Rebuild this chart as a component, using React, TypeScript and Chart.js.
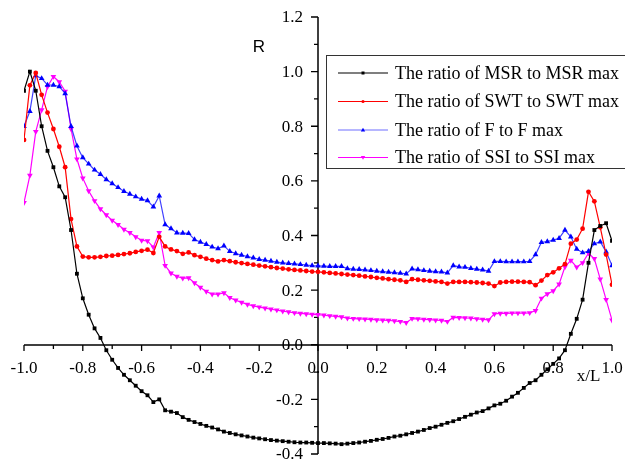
import React, { useEffect, useRef } from "react";
import { Chart, registerables } from "chart.js";

Chart.register(...registerables);

const xValues = [
  -1.0, -0.98, -0.96, -0.94, -0.92, -0.9, -0.88, -0.86, -0.84, -0.82,
  -0.8, -0.78, -0.76, -0.74, -0.72, -0.7, -0.68, -0.66, -0.64, -0.62,
  -0.6, -0.58, -0.56, -0.54, -0.52, -0.5, -0.48, -0.46, -0.44, -0.42,
  -0.4, -0.38, -0.36, -0.34, -0.32, -0.3, -0.28, -0.26, -0.24, -0.22,
  -0.2, -0.18, -0.16, -0.14, -0.12, -0.1, -0.08, -0.06, -0.04, -0.02,
  0.0, 0.02, 0.04, 0.06, 0.08, 0.1, 0.12, 0.14, 0.16, 0.18,
  0.2, 0.22, 0.24, 0.26, 0.28, 0.3, 0.32, 0.34, 0.36, 0.38,
  0.4, 0.42, 0.44, 0.46, 0.48, 0.5, 0.52, 0.54, 0.56, 0.58,
  0.6, 0.62, 0.64, 0.66, 0.68, 0.7, 0.72, 0.74, 0.76, 0.78,
  0.8, 0.82, 0.84, 0.86, 0.88, 0.9, 0.92, 0.94, 0.96, 0.98,
  1.0,
];

const msrRatio = [
  0.93, 1.0, 0.93, 0.8, 0.71, 0.65, 0.58, 0.54, 0.42, 0.26,
  0.17, 0.11, 0.06, 0.025, -0.02, -0.055, -0.085, -0.11, -0.13, -0.15,
  -0.17, -0.185, -0.21, -0.2, -0.24, -0.245, -0.25, -0.265, -0.275, -0.283,
  -0.29, -0.297, -0.303, -0.31, -0.318, -0.323, -0.328, -0.332, -0.336, -0.34,
  -0.343, -0.346, -0.349, -0.351, -0.353, -0.355, -0.357, -0.358, -0.358, -0.359,
  -0.36, -0.36, -0.361, -0.362, -0.364, -0.362, -0.36, -0.358, -0.355, -0.352,
  -0.348, -0.345, -0.341, -0.336, -0.333, -0.328, -0.323, -0.318, -0.312, -0.305,
  -0.3, -0.293, -0.286, -0.28, -0.272, -0.264, -0.256, -0.248, -0.243, -0.233,
  -0.222, -0.216, -0.205, -0.19, -0.176, -0.158, -0.14, -0.13, -0.11, -0.09,
  -0.07, -0.05, -0.02, 0.04, 0.095, 0.165, 0.3, 0.42, 0.435, 0.445,
  0.38,
];

const swtRatio = [
  0.75, 0.95, 0.995, 0.915, 0.85, 0.79, 0.725, 0.65, 0.46, 0.36,
  0.323, 0.32, 0.32, 0.322, 0.325, 0.326, 0.329, 0.332, 0.335, 0.34,
  0.344, 0.348, 0.336, 0.395, 0.36, 0.349, 0.343, 0.333, 0.338, 0.328,
  0.322, 0.315, 0.31, 0.305, 0.31, 0.306, 0.302, 0.299, 0.296, 0.293,
  0.29, 0.287, 0.284, 0.281, 0.279, 0.276, 0.274, 0.272, 0.27, 0.268,
  0.267, 0.265, 0.263, 0.261, 0.259, 0.257, 0.255, 0.253, 0.25, 0.248,
  0.245, 0.243, 0.24, 0.238, 0.236, 0.23, 0.24, 0.238, 0.236, 0.234,
  0.232, 0.23, 0.224, 0.23, 0.23, 0.23, 0.229, 0.228, 0.226, 0.224,
  0.215, 0.228, 0.23, 0.231, 0.231, 0.23, 0.229, 0.218, 0.235, 0.255,
  0.265, 0.28, 0.295, 0.37, 0.385, 0.425, 0.56, 0.525, 0.43, 0.33,
  0.22,
];

const fRatio = [
  0.8, 0.855, 0.985, 0.975, 0.951, 0.951, 0.945, 0.92, 0.8, 0.728,
  0.685, 0.662, 0.64, 0.624, 0.605, 0.59, 0.576, 0.562, 0.552, 0.542,
  0.533, 0.528, 0.505, 0.545, 0.44, 0.425, 0.41, 0.409, 0.408, 0.385,
  0.376, 0.368, 0.358, 0.352, 0.362, 0.342, 0.334, 0.328, 0.323, 0.318,
  0.313, 0.31, 0.306, 0.303, 0.3, 0.298, 0.296, 0.294, 0.292, 0.29,
  0.289, 0.288, 0.287, 0.287, 0.287, 0.279, 0.277, 0.276, 0.274, 0.272,
  0.27, 0.268, 0.266, 0.264, 0.262, 0.26, 0.278, 0.275, 0.272, 0.27,
  0.268, 0.267, 0.263, 0.29, 0.285, 0.284, 0.28, 0.277, 0.274, 0.27,
  0.305, 0.305, 0.304, 0.304, 0.304, 0.304, 0.305, 0.33, 0.375, 0.378,
  0.383, 0.39, 0.42, 0.395, 0.35, 0.337, 0.342, 0.37, 0.377, 0.34,
  0.29,
];

const ssiRatio = [
  0.52, 0.62, 0.78, 0.86, 0.945, 0.982, 0.962, 0.928, 0.79, 0.68,
  0.61, 0.563, 0.527, 0.497, 0.475, 0.455, 0.44, 0.422, 0.41, 0.395,
  0.382, 0.38, 0.357, 0.41, 0.29, 0.262, 0.25, 0.244, 0.245, 0.226,
  0.21, 0.195, 0.185, 0.185, 0.19, 0.172, 0.163, 0.155, 0.148, 0.142,
  0.138, 0.134, 0.13, 0.127, 0.123, 0.12, 0.117, 0.115, 0.113, 0.111,
  0.11, 0.108, 0.106, 0.104, 0.102, 0.097, 0.096, 0.095, 0.094, 0.093,
  0.091, 0.09, 0.089, 0.087, 0.085, 0.081, 0.096, 0.095, 0.093, 0.092,
  0.09, 0.089, 0.085, 0.1, 0.099, 0.098, 0.097, 0.095, 0.093, 0.091,
  0.113, 0.115, 0.115, 0.116, 0.116, 0.116, 0.117, 0.125, 0.17, 0.186,
  0.197, 0.222, 0.285, 0.309, 0.284, 0.3, 0.335, 0.315, 0.24, 0.165,
  0.09,
];

const seriesNames = [
  "The ratio of MSR to MSR max",
  "The ratio of SWT to SWT max",
  "The ratio of F to F max",
  "The ratio of SSI to SSI max",
];

const xMajorTicks = [-1.0, -0.8, -0.6, -0.4, -0.2, 0.0, 0.2, 0.4, 0.6, 0.8, 1.0];
const xTickLabels = ["-1.0", "-0.8", "-0.6", "-0.4", "-0.2", "0.0", "0.2", "0.4", "0.6", "0.8", "1.0"];
const xMinorTicks = [-0.9, -0.7, -0.5, -0.3, -0.1, 0.1, 0.3, 0.5, 0.7, 0.9];
const yMajorTicks = [-0.4, -0.2, 0.0, 0.2, 0.4, 0.6, 0.8, 1.0, 1.2];
const yTickLabels = ["-0.4", "-0.2", "0.0", "0.2", "0.4", "0.6", "0.8", "1.0", "1.2"];
const yMinorTicks = [-0.3, -0.1, 0.1, 0.3, 0.5, 0.7, 0.9, 1.1];

const xTitle = "x/L";
const yTitle = "R";

const COLORS = ["#000000", "#ff0000", "#0000ff", "#ff00ff"];
const SERIF = "'Liberation Serif', 'Times New Roman', serif";

const axesPlugin = {
  id: "customAxes",
  beforeDatasetsDraw(chart: any) {
    const { ctx } = chart;
    const xs = chart.scales.x;
    const ys = chart.scales.y;
    const x0 = Math.round(xs.getPixelForValue(0));
    const y0 = Math.round(ys.getPixelForValue(0));
    const xl = xs.getPixelForValue(-1);
    const xr = xs.getPixelForValue(1);
    const yt = ys.getPixelForValue(1.2);
    const yb = ys.getPixelForValue(-0.4);
    ctx.save();
    ctx.strokeStyle = "#000";
    ctx.lineWidth = 1.5;
    ctx.beginPath();
    ctx.moveTo(xl, y0);
    ctx.lineTo(xr, y0);
    ctx.moveTo(x0, yt);
    ctx.lineTo(x0, yb);
    ctx.stroke();

    ctx.lineWidth = 1.3;
    ctx.beginPath();
    xMajorTicks.forEach((v) => {
      const px = xs.getPixelForValue(v);
      ctx.moveTo(px, y0);
      ctx.lineTo(px, y0 + 6);
    });
    xMinorTicks.forEach((v) => {
      const px = xs.getPixelForValue(v);
      ctx.moveTo(px, y0);
      ctx.lineTo(px, y0 + 4);
    });
    yMajorTicks.forEach((v) => {
      const py = ys.getPixelForValue(v);
      ctx.moveTo(x0, py);
      ctx.lineTo(x0 - 7, py);
    });
    yMinorTicks.forEach((v) => {
      const py = ys.getPixelForValue(v);
      ctx.moveTo(x0, py);
      ctx.lineTo(x0 - 4, py);
    });
    ctx.stroke();

    ctx.fillStyle = "#000";
    ctx.font = `17px ${SERIF}`;
    ctx.textAlign = "center";
    ctx.textBaseline = "middle";
    xMajorTicks.forEach((v, i) => {
      ctx.fillText(xTickLabels[i], xs.getPixelForValue(v), y0 + 24);
    });
    ctx.textAlign = "right";
    yMajorTicks.forEach((v, i) => {
      ctx.fillText(yTickLabels[i], x0 - 15, ys.getPixelForValue(v) + 1);
    });

    ctx.textAlign = "center";
    ctx.fillText(xTitle, xs.getPixelForValue(0.92), y0 + 32);
    ctx.font = `17px 'Liberation Sans', Arial, sans-serif`;
    ctx.fillText(yTitle, x0 - 59, ys.getPixelForValue(1.09));
    ctx.restore();
  },
};

function drawMarker(ctx: CanvasRenderingContext2D, i: number, x: number, y: number) {
  ctx.fillStyle = COLORS[i];
  ctx.beginPath();
  if (i === 0) {
    ctx.rect(x - 1.5, y - 1.5, 3, 3);
  } else if (i === 1) {
    ctx.arc(x, y, 1.6, 0, Math.PI * 2);
  } else if (i === 2) {
    ctx.moveTo(x, y - 2.2);
    ctx.lineTo(x + 2.2, y + 1.6);
    ctx.lineTo(x - 2.2, y + 1.6);
    ctx.closePath();
  } else {
    ctx.moveTo(x, y + 2.2);
    ctx.lineTo(x + 2.2, y - 1.6);
    ctx.lineTo(x - 2.2, y - 1.6);
    ctx.closePath();
  }
  ctx.fill();
}

const legendPlugin = {
  id: "customLegend",
  afterDraw(chart: any) {
    const { ctx } = chart;
    ctx.save();
    ctx.strokeStyle = "#333";
    ctx.lineWidth = 1;
    ctx.strokeRect(326.5, 55.5, 320, 113);
    const rows = [73, 101.5, 130, 157.5];
    const lineColors = ["#000000", "#ff0000", "#6f6fff", "#ff00ff"];
    seriesNames.forEach((name, i) => {
      const y = rows[i];
      ctx.strokeStyle = lineColors[i];
      ctx.lineWidth = 1.2;
      ctx.beginPath();
      ctx.moveTo(338, y);
      ctx.lineTo(388, y);
      ctx.stroke();
      drawMarker(ctx, i, 363, y);
      ctx.fillStyle = "#000";
      ctx.font = `18px ${SERIF}`;
      ctx.textAlign = "left";
      ctx.textBaseline = "middle";
      ctx.fillText(name, 395, y + 1);
    });
    ctx.restore();
  },
};

export default function App() {
  const canvasRef = useRef<HTMLCanvasElement | null>(null);

  useEffect(() => {
    if (!canvasRef.current) return;
    const mk = (vals: number[]) => xValues.map((x, i) => ({ x, y: vals[i] }));
    const chart = new Chart(canvasRef.current, {
      type: "line",
      data: {
        datasets: [
          {
            label: seriesNames[0],
            data: mk(msrRatio),
            borderColor: COLORS[0],
            backgroundColor: COLORS[0],
            borderWidth: 1.2,
            pointStyle: "rect",
            pointRadius: 2.7,
            pointBorderWidth: 0,
          },
          {
            label: seriesNames[1],
            data: mk(swtRatio),
            borderColor: COLORS[1],
            backgroundColor: COLORS[1],
            borderWidth: 1.2,
            pointStyle: "circle",
            pointRadius: 2.4,
            pointBorderWidth: 0,
          },
          {
            label: seriesNames[2],
            data: mk(fRatio),
            borderColor: "rgba(0,0,255,0.75)",
            backgroundColor: COLORS[2],
            borderWidth: 1.2,
            pointStyle: "triangle",
            pointRadius: 3.3,
            pointBorderWidth: 0,
          },
          {
            label: seriesNames[3],
            data: mk(ssiRatio),
            borderColor: COLORS[3],
            backgroundColor: COLORS[3],
            borderWidth: 1.2,
            pointStyle: "triangle",
            pointRotation: 180,
            pointRadius: 3.3,
            pointBorderWidth: 0,
          },
        ],
      },
      options: {
        responsive: false,
        animation: false,
        devicePixelRatio: 1,
        layout: { padding: { left: 24, right: 13, top: 17, bottom: 9 } },
        plugins: { legend: { display: false }, tooltip: { enabled: false } },
        elements: { line: { tension: 0 } },
        scales: {
          x: { type: "linear", min: -1, max: 1, display: false },
          y: { type: "linear", min: -0.4, max: 1.2, display: false },
        },
      },
      plugins: [axesPlugin, legendPlugin],
    } as any);
    return () => chart.destroy();
  }, []);

  return (
    <div style={{ position: "absolute", left: 0, top: 0, width: 625, height: 463, background: "#fff" }}>
      <canvas ref={canvasRef} width={625} height={463} style={{ display: "block" }} />
    </div>
  );
}
